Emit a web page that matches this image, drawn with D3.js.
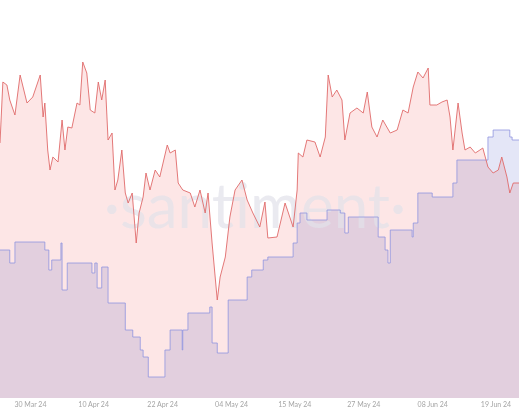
<!DOCTYPE html>
<html><head><meta charset="utf-8">
<script src="https://cdn.jsdelivr.net/npm/d3@7"></script>
<style>body{margin:0;background:#fff}svg{display:block}</style>
</head><body><svg id="c" width="519" height="414"></svg>
<script>
const startDate = new Date(2024,2,24,19);
const redDays = [0,0.5,1.2,1.7,2.6,3.5,4.7,5.7,7.0,7.5,7.8,8.3,8.7,9.2,10.1,10.8,11.3,11.8,12.5,13.4,13.9,14.4,15.1,15.7,16.5,17.1,17.7,18.3,18.8,19.5,20.0,20.5,21.2,21.8,22.3,23.0,23.7,24.2,24.9,25.4,26.1,27.0,27.8,29.1,29.6,30.5,31.0,31.8,33.1,33.9,34.8,35.7,36.2,36.9,37.8,38.3,39.2,40.0,40.9,42.1,43.0,44.0,45.2,46.1,46.6,48.2,49.6,51.0,51.7,51.9,52.7,53.4,54.8,55.7,56.6,57.1,57.8,58.6,59.5,60.0,60.9,62.1,63.2,63.9,64.7,65.6,66.6,67.9,69.1,70.1,71.0,71.9,72.7,73.6,74.5,74.8,76.0,76.9,77.8,78.3,78.8,79.7,80.4,80.9,81.8,82.7,83.5,84.0,84.9,85.8,86.7,87.3,88.2,88.7,89.3,90.3];
const redValues = [255,316,313,298,283,323,295,301,323,281,295,248,228,241,236,278,248,271,270,295,293,336,325,288,285,316,298,318,258,265,208,218,248,205,195,205,155,185,201,225,208,228,221,253,245,248,215,208,205,191,208,185,205,155,98,121,141,181,208,218,198,185,171,196,160,161,195,171,208,245,241,258,256,241,261,323,301,308,298,258,285,290,285,306,271,261,278,265,268,288,285,311,326,320,330,293,293,296,298,281,248,295,265,248,251,245,248,250,231,225,228,241,221,205,215,215];
const blueDays = [0,1.7,2.6,7.8,8.5,9.0,10.6,10.8,11.7,16.0,16.5,16.9,17.7,18.8,21.8,23.1,24.4,24.9,25.8,28.7,29.6,31.7,31.8,32.7,36.5,36.9,37.8,39.7,43.0,43.8,45.8,46.6,51.0,51.7,52.2,53.4,56.9,59.2,60.0,60.6,65.8,67.0,67.5,67.9,71.7,71.9,72.7,75.2,78.8,79.5,84.9,85.8,88.7,89.1,90.3];
const blueValues = [148,135,156,148,128,138,155,108,135,125,135,110,131,95,68,61,48,41,21,48,68,48,68,85,91,55,45,98,121,128,138,141,155,175,185,178,188,185,165,181,161,148,135,168,161,175,205,201,215,238,261,268,261,258,258];
const tickLabels = ["30 Mar 24","10 Apr 24","22 Apr 24","04 May 24","15 May 24","27 May 24","08 Jun 24","19 Jun 24"];
const tickDates = ["2024-03-30","2024-04-10","2024-04-22","2024-05-04","2024-05-15","2024-05-27","2024-06-08","2024-06-19"];

const W=519,H=414,bottom=398;
const toDate=d=>new Date(startDate.getTime()+d*864e5);
const x=d3.scaleTime().domain([toDate(0),toDate(90.3)]).range([0,W]);
const y=d3.scaleLinear().domain([0,398]).range([bottom,0]);
const svg=d3.select("#c");
const red=redDays.map((d,i)=>({t:toDate(d),v:redValues[i]}));
const blue=blueDays.map((d,i)=>({t:toDate(d),v:blueValues[i]}));

svg.append("path").datum(red).attr("fill","#fde6e6")
 .attr("d",d3.area().x(d=>x(d.t)).y0(bottom).y1(d=>y(d.v)));
svg.append("path").datum(blue).attr("fill","#e4e6f7").style("mix-blend-mode","multiply")
 .attr("d",d3.area().curve(d3.curveStepAfter).x(d=>x(d.t)).y0(bottom).y1(d=>y(d.v)));
svg.append("text").attr("x",255).attr("y",228).attr("text-anchor","middle")
 .attr("font-family","Lato, sans-serif").attr("font-size",62).attr("fill","#e2e2ea").attr("opacity",0.7)
 .text("·santiment·");
svg.append("path").datum(blue).attr("fill","none").attr("stroke","#8f94e0").attr("stroke-width",0.8)
 .attr("d",d3.line().curve(d3.curveStepAfter).x(d=>x(d.t)).y(d=>y(d.v)));
svg.append("path").datum(red).attr("fill","none").attr("stroke","#e06a6a").attr("stroke-width",0.9)
 .attr("d",d3.line().x(d=>x(d.t)).y(d=>y(d.v)));

const ax=d3.axisBottom(x).tickValues(tickDates.map(s=>new Date(s+"T00:00"))).tickSize(0)
 .tickFormat((d,i)=>tickLabels[i]);
const g=svg.append("g").attr("transform",`translate(0,${bottom})`).call(ax);
g.select(".domain").remove();
g.selectAll("text").attr("fill","#a5a5a5").attr("font-size",7).attr("font-family","Lato, sans-serif").attr("dy","0.9em");
</script></body></html>
